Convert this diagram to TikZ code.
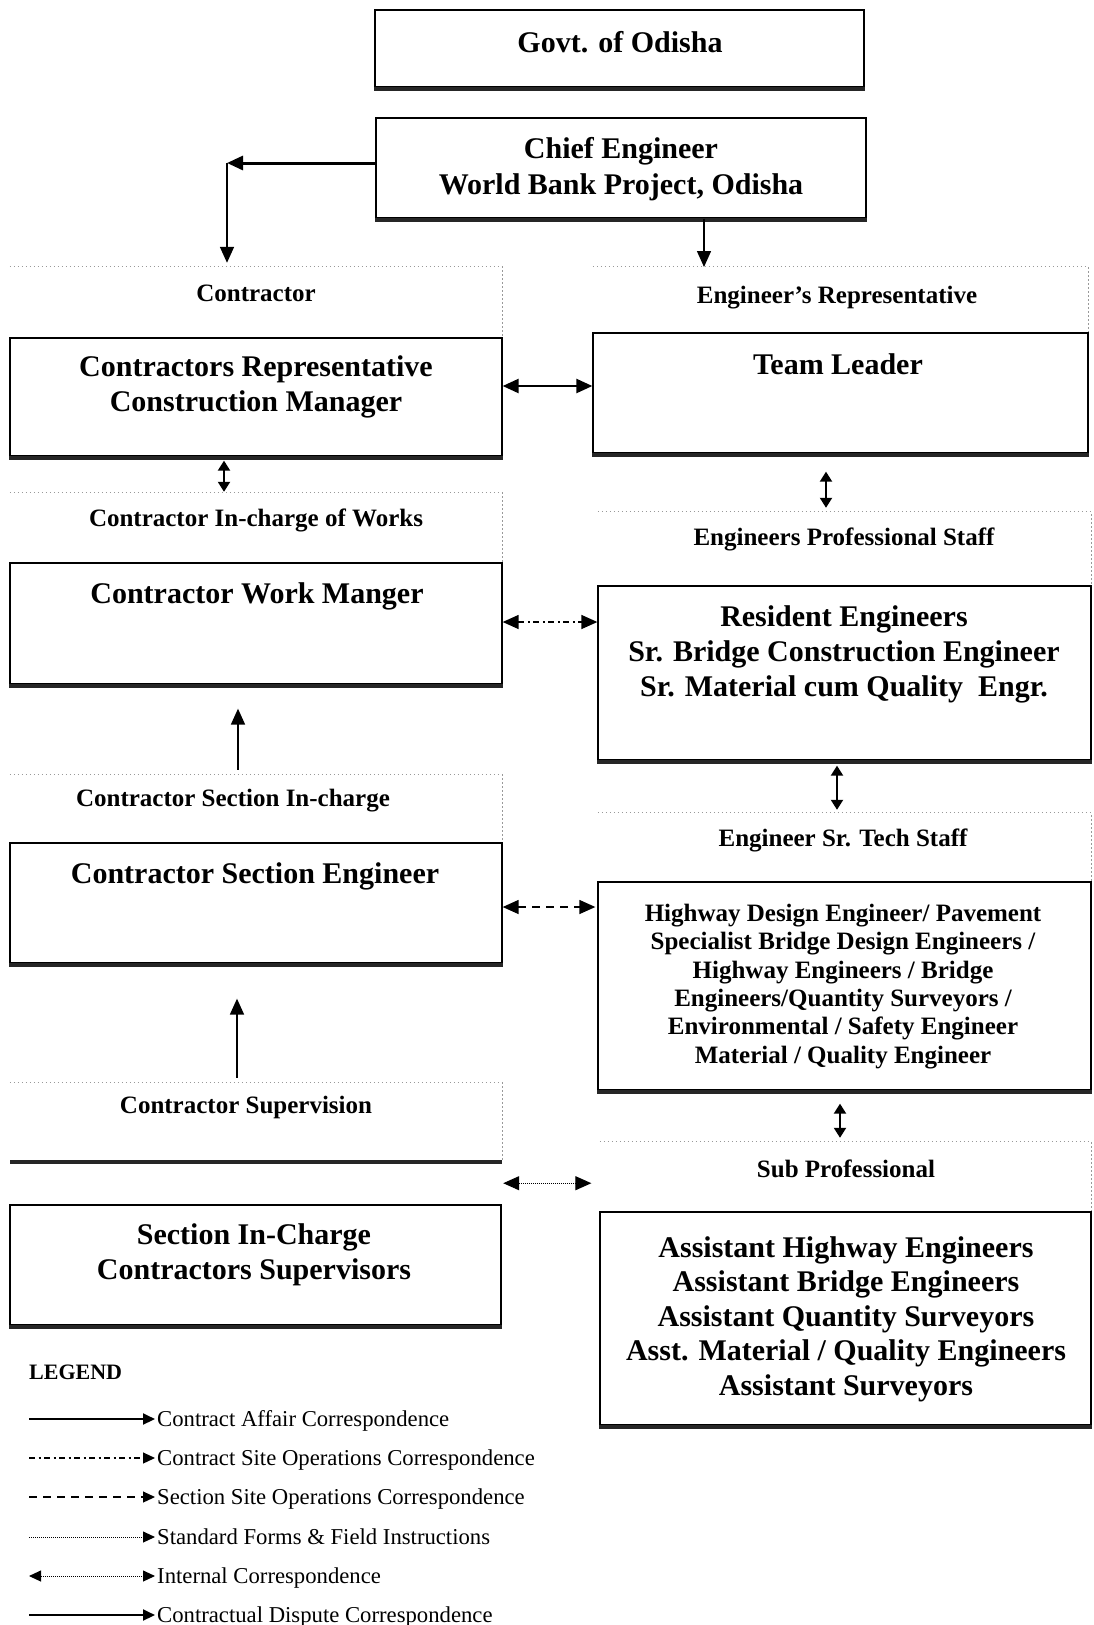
\documentclass[tikz,border=0pt]{standalone}
\usepackage{fontspec}
\setmainfont{Liberation Serif}
\usetikzlibrary{arrows.meta,fit}
% bottom shadow under a framed box
\newcommand\boxshade[1]{\fill[shade] ([yshift=0.6pt]#1.south west) rectangle ([yshift=-3.8pt]#1.south east);}
% faint outline (top and right side) of a caption panel
\newcommand\hdredge[1]{\draw[hdrline] (#1.north west) -- (#1.north east) -- (#1.south east);}
\begin{document}
\begin{tikzpicture}[x=1pt,y=-1pt,
  box/.style={draw=black, line width=1.3pt, inner sep=0pt},
  hdr/.style={inner sep=0pt},
  hdrline/.style={draw=black!40, line width=1pt, dash pattern=on 1.2pt off 2.8pt},
  shade/.style={fill=black!85},
  big/.style={font=\fontsize{30}{35}\selectfont\bfseries, align=center, inner sep=0pt},
  mid/.style={font=\fontsize{25}{28.4}\selectfont\bfseries, align=center, inner sep=0pt},
  lgtxt/.style={font=\fontsize{22.7}{27}\selectfont, inner sep=0pt, anchor=base west},
  tip/.style={-{Triangle[length=16pt,width=14pt]}},
  dtip/.style={{Triangle[length=16pt,width=14pt]}-{Triangle[length=16pt,width=14pt]}},
  sdtip/.style={{Triangle[length=10pt,width=12pt]}-{Triangle[length=10pt,width=12pt]}},
  ltip/.style={-{Triangle[length=12pt,width=11pt]}},
  ldtip/.style={{Triangle[length=12pt,width=11pt]}-{Triangle[length=12pt,width=11pt]}},
  dashdot/.style={line width=1.4pt, dash pattern=on 6pt off 3.5pt on 2pt off 3.5pt},
  dashline/.style={line width=1.4pt, dash pattern=on 8pt off 6pt},
  dotline/.style={line width=1pt, dash pattern=on 1pt off 1pt},
]
\useasboundingbox (0,0) rectangle (1093,1625);
\fill[white] (0,0) rectangle (1093,1625);

% ---------- top level ----------
\node[box, fit={(375,10) (864,87)}] (govt) {};
\boxshade{govt}
\node[big, anchor=base] (tgovt) at (620,52) {Govt. of Odisha};

\node[box, fit={(376,118) (866,218)}] (chief) {};
\boxshade{chief}
\node[big, font=\fontsize{30}{36}\selectfont\bfseries] (tchief) at (621,169) {Chief Engineer\\World Bank Project, Odisha};

% ---------- contractor side ----------
\node[hdr, fit={(10,267) (502,338)}] (chdr) {};
\hdredge{chdr}
\node[mid, anchor=base] (tchdr) at (256,301.3) {Contractor};
\node[box, fit={(10,338) (502,456)}] (crm) {};
\boxshade{crm}
\node[big] (tcrm) at (256,386.5) {Contractors Representative\\Construction Manager};

\node[hdr, fit={(10,493) (502,563)}] (wihdr) {};
\hdredge{wihdr}
\node[mid, anchor=base] (twihdr) at (256,526.3) {Contractor In-charge of Works};
\node[box, fit={(10,563) (502,684)}] (wm) {};
\boxshade{wm}
\node[big, anchor=base] (twm) at (257,603) {Contractor Work Manger};

\node[hdr, fit={(10,775) (502,843)}] (sihdr) {};
\hdredge{sihdr}
\node[mid, anchor=base] (tsihdr) at (233,806.3) {Contractor Section In-charge};
\node[box, fit={(10,843) (502,963)}] (se) {};
\boxshade{se}
\node[big, anchor=base] (tse) at (255,883) {Contractor Section Engineer};

\node[hdr, fit={(10,1083) (502,1160)}] (cshdr) {};
\hdredge{cshdr}
\boxshade{cshdr}
\node[mid, anchor=base] (tcshdr) at (246,1113.3) {Contractor Supervision};

\node[box, fit={(10,1205) (501,1325)}] (sic) {};
\boxshade{sic}
\node[big] (tsic) at (254,1254.5) {Section In-Charge\\Contractors Supervisors};

% ---------- engineer side ----------
\node[hdr, fit={(593,267) (1088,333)}] (erhdr) {};
\hdredge{erhdr}
\node[mid, anchor=base] (terhdr) at (837,303.3) {Engineer’s Representative};
\node[box, fit={(593,333) (1088,453)}] (tl) {};
\boxshade{tl}
\node[big, anchor=base] (ttl) at (838,374) {Team Leader};

\node[hdr, fit={(598,512) (1091,586)}] (ephdr) {};
\hdredge{ephdr}
\node[mid, anchor=base] (tephdr) at (844,545.3) {Engineers Professional Staff};
\node[box, fit={(598,586) (1091,760)}] (res) {};
\boxshade{res}
\node[big] (tres) at (844,654) {Resident Engineers\\Sr. Bridge Construction Engineer\\Sr. Material cum Quality~ Engr.};

\node[hdr, fit={(598,813) (1091,882)}] (tshdr) {};
\hdredge{tshdr}
\node[mid, anchor=base] (ttshdr) at (843,846.3) {Engineer Sr. Tech Staff};
\node[box, fit={(598,882) (1091,1090)}] (hw) {};
\boxshade{hw}
\node[mid] (thw) at (843,986.4) {Highway Design Engineer/ Pavement\\Specialist Bridge Design Engineers /\\Highway Engineers / Bridge\\Engineers/Quantity Surveyors /\\Environmental / Safety Engineer\\Material / Quality Engineer};

\node[hdr, fit={(600,1142) (1091,1212)}] (sphdr) {};
\hdredge{sphdr}
\node[mid, anchor=base] (tsphdr) at (846,1177.3) {Sub Professional};
\node[box, fit={(600,1212) (1091,1425)}] (asst) {};
\boxshade{asst}
\node[big, font=\fontsize{30}{34.5}\selectfont\bfseries] (tasst) at (846,1319) {Assistant Highway Engineers\\Assistant Bridge Engineers\\Assistant Quantity Surveyors\\Asst. Material / Quality Engineers\\Assistant Surveyors};

% ---------- connectors ----------
\coordinate (cbend) at (227,163);
\coordinate (cdown) at (704,267);
\draw[tip, line width=3pt] (chief.west |- cbend) -- (cbend);
\draw[tip, line width=1.7pt, shorten >=4pt] (cbend) -- (cbend |- chdr.north);
\draw[tip, line width=1.5pt] (chief.south -| cdown) -- (cdown);

\draw[dtip, line width=2.4pt] ([yshift=11pt]crm.east) -- ([yshift=11pt]crm.east -| tl.west);
\draw[sdtip, line width=2pt, shorten <=4pt, shorten >=1pt] ([xshift=-32pt]crm.south) -- ([xshift=-32pt]crm.south |- wihdr.north);
\draw[sdtip, line width=2pt, shorten <=18pt, shorten >=4pt] ([xshift=-14.5pt]tl.south) -- ([xshift=-14.5pt]tl.south |- ephdr.north);

\draw[dtip, dashdot] ([yshift=1.5pt]wm.east) -- ([yshift=1.5pt]wm.east -| res.west);
\draw[tip, line width=1.8pt, shorten <=5pt, shorten >=24pt] ([xshift=-18pt]wm.south |- sihdr.north) -- ([xshift=-18pt]wm.south);
\draw[sdtip, line width=2pt, shorten <=5pt, shorten >=3pt] ([xshift=-7.5pt]res.south) -- ([xshift=-7.5pt]res.south |- tshdr.north);

\draw[dtip, dashline, shorten >=2pt] ([yshift=-4pt]se.east) -- ([yshift=-4pt]se.east -| hw.west);
\draw[tip, line width=1.8pt, shorten <=5pt, shorten >=35pt] ([xshift=-19pt]se.south |- cshdr.north) -- ([xshift=-19pt]se.south);
\draw[sdtip, line width=2pt, shorten <=13pt, shorten >=4pt] ([xshift=-4.5pt]hw.south) -- ([xshift=-4.5pt]hw.south |- sphdr.north);

\draw[dtip, dotline, shorten <=1pt, shorten >=8pt] ([yshift=-23pt]cshdr.south east) -- ([yshift=-23pt]cshdr.south east -| asst.west);

% ---------- legend ----------
\node[anchor=base west, inner sep=0pt, font=\fontsize{22}{26}\selectfont\bfseries] (lgtitle) at (29,1379.3) {LEGEND};
\node[lgtxt] (lg1) at (157,1426.6) {Contract Affair Correspondence};
\node[lgtxt] (lg2) at (157,1465.6) {Contract Site Operations Correspondence};
\node[lgtxt] (lg3) at (157,1504.6) {Section Site Operations Correspondence};
\node[lgtxt] (lg4) at (157,1544.6) {Standard Forms \& Field Instructions};
\node[lgtxt] (lg5) at (157,1583.6) {Internal Correspondence};
\node[lgtxt] (lg6) at (157,1622.6) {Contractual Dispute Correspondence};
\coordinate (ls1) at (29,1419);
\coordinate (ls2) at (29,1458);
\coordinate (ls3) at (29,1497);
\coordinate (ls4) at (29,1537);
\coordinate (ls5) at (29,1576);
\coordinate (ls6) at (29,1615);
\draw[ltip, line width=2pt, shorten >=2pt] (ls1) -- (ls1 -| lg1.west);
\draw[ltip, dashdot, line width=1.2pt, shorten >=2pt] (ls2) -- (ls2 -| lg2.west);
\draw[ltip, dashline, line width=1.2pt, shorten >=2pt] (ls3) -- (ls3 -| lg3.west);
\draw[ltip, dotline, shorten >=2pt] (ls4) -- (ls4 -| lg4.west);
\draw[ldtip, dotline, shorten >=2pt] (ls5) -- (ls5 -| lg5.west);
\draw[ltip, line width=2pt, shorten >=2pt] (ls6) -- (ls6 -| lg6.west);
\end{tikzpicture}
\end{document}
